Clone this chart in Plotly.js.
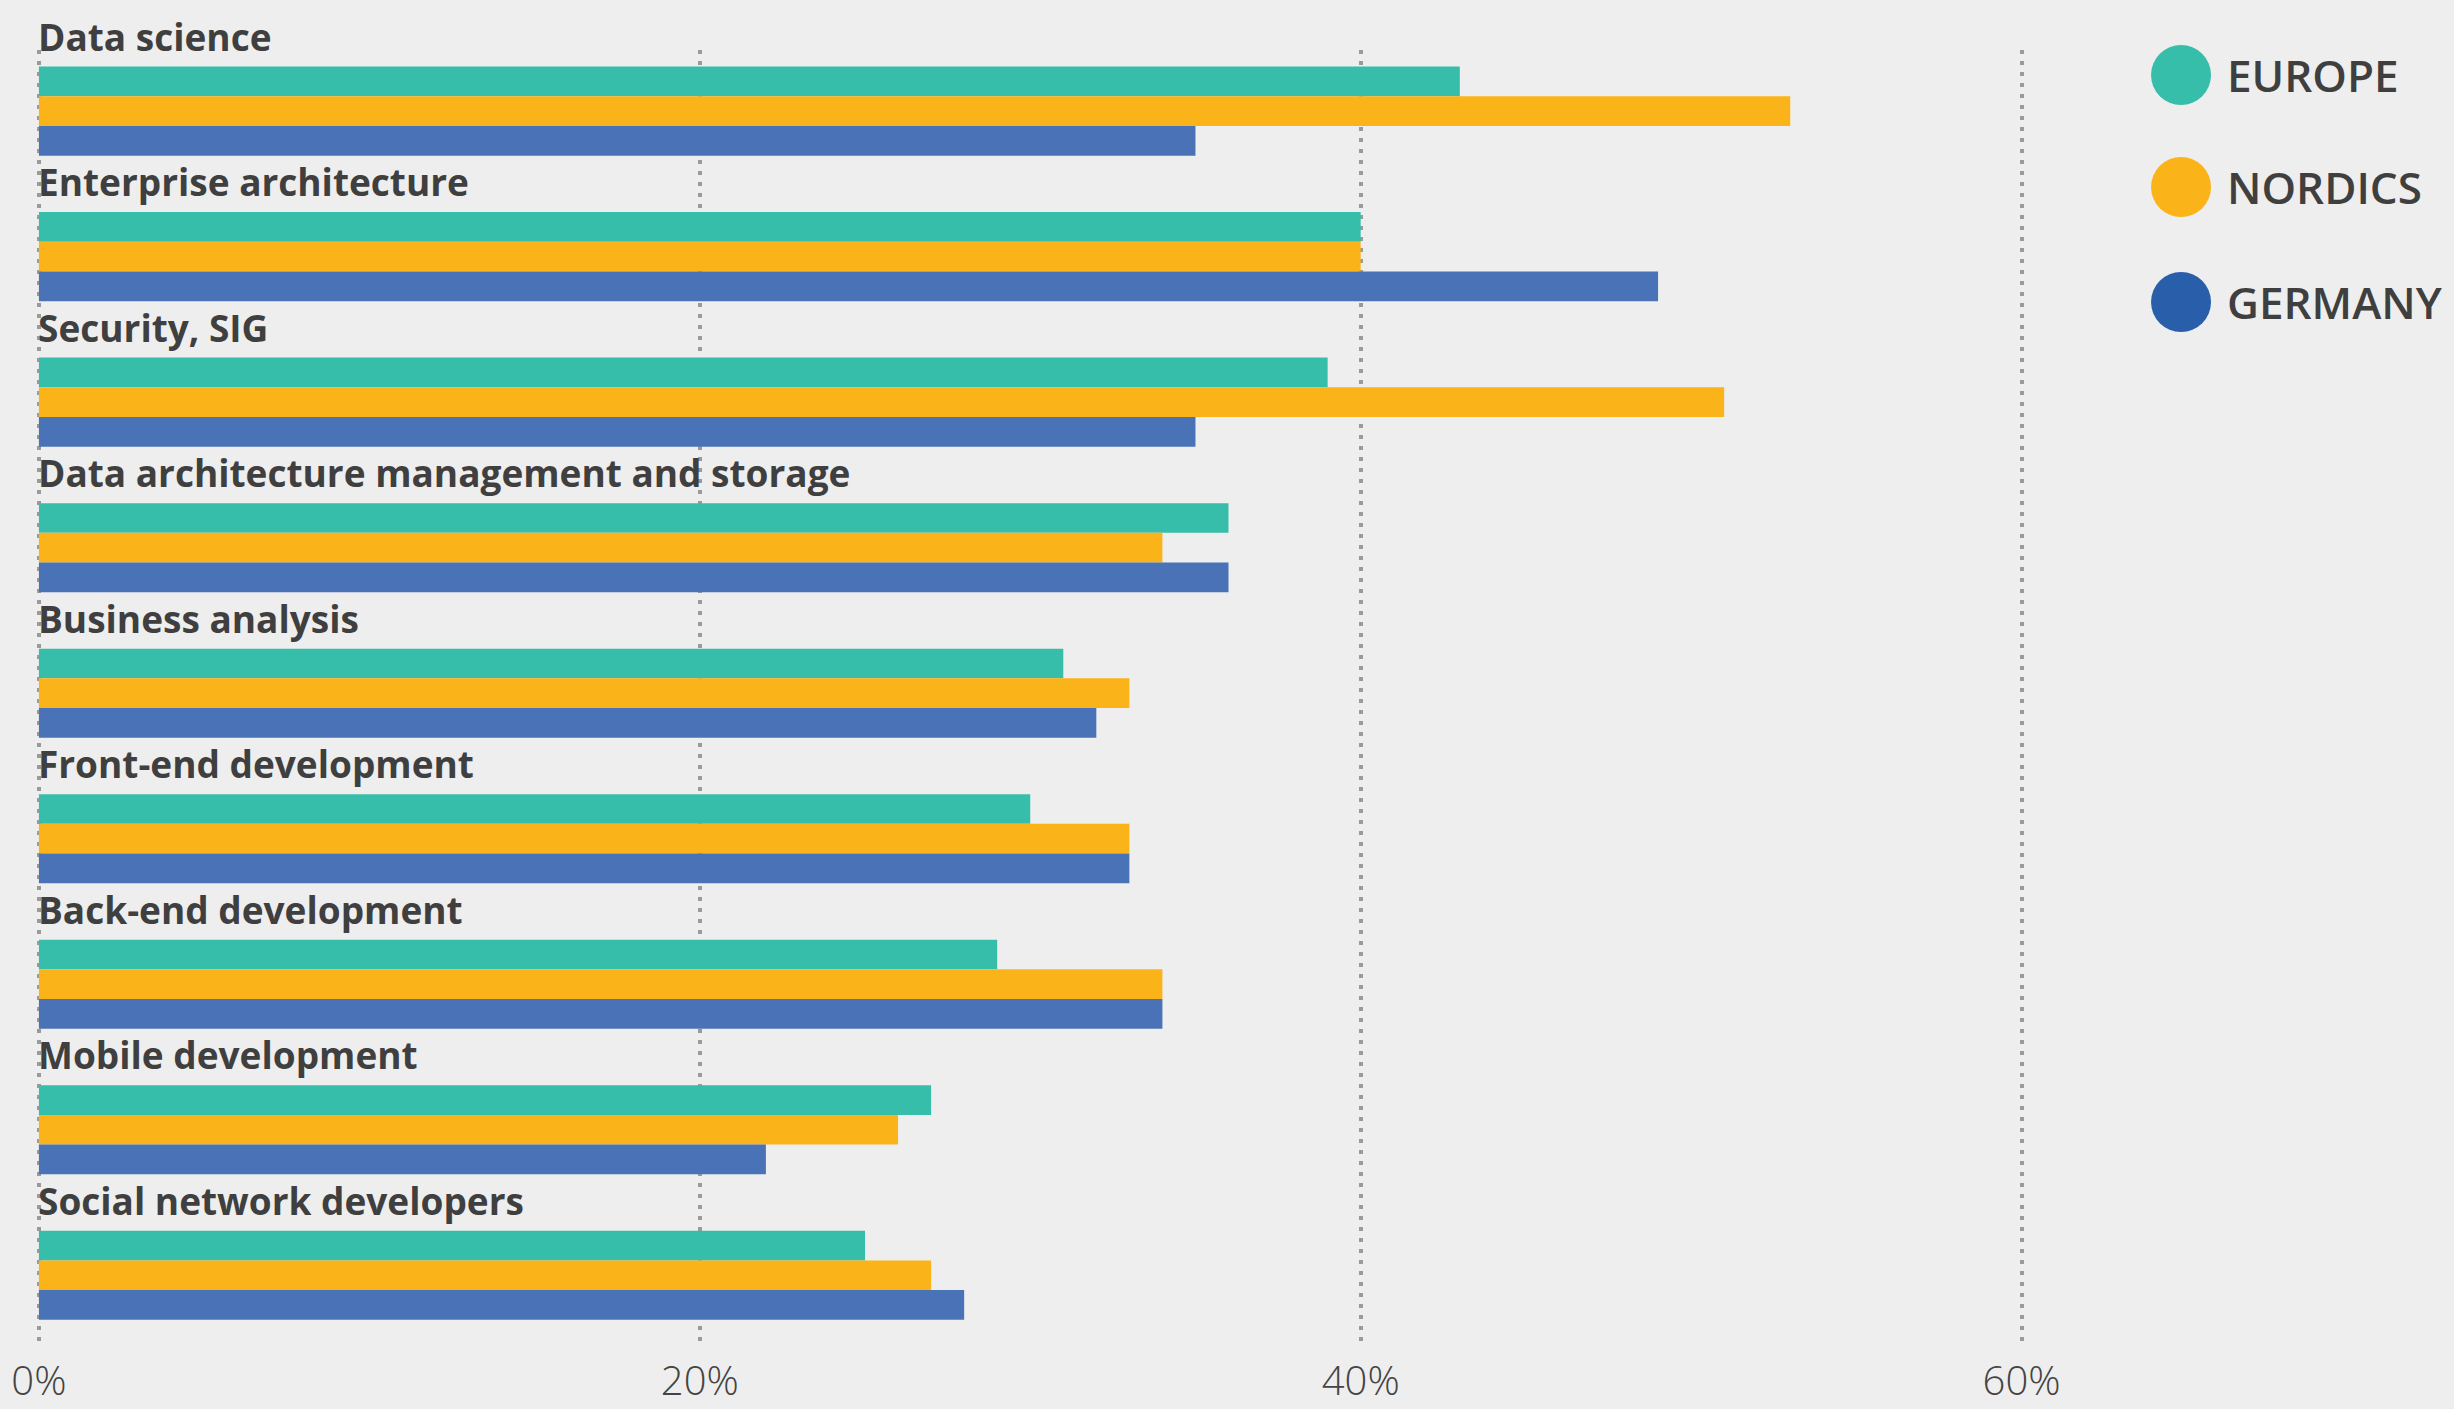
<!DOCTYPE html>
<html>
<head>
<meta charset="utf-8">
<script src="https://cdn.plot.ly/plotly-3.0.1.min.js"></script>
<style>
  html, body { margin: 0; padding: 0; background: #EEEEEE; }
  #chart { width: 2454px; height: 1409px; }
</style>
</head>
<body>
<div id="chart"></div>
<script>
// ---- data ----
var categories = [
  "Data science",
  "Enterprise architecture",
  "Security, SIG",
  "Data architecture management and storage",
  "Business analysis",
  "Front-end development",
  "Back-end development",
  "Mobile development",
  "Social network developers"
];
var europe  = [43, 40, 39, 36, 31, 30, 29, 27, 25];
var nordics = [53, 40, 51, 34, 33, 33, 34, 26, 27];
var germany = [35, 49, 35, 36, 32, 33, 34, 22, 28];
var seriesNames = ["EUROPE", "NORDICS", "GERMANY"];
var tickValues = [0, 20, 40, 60];
var tickLabels = ["0%", "20%", "40%", "60%"];

// ---- styles ----
var barColors = ["#36BEAA", "#FAB419", "#4A72B7"];
var legendColors = ["#36BEAA", "#FAB419", "#295EAB"];
var textColor = "#3F3F3F";
var labelFont = "'Open Sans', 'DejaVu Sans', sans-serif";

var seriesValues = [europe, nordics, germany];
var traces = seriesValues.map(function (vals, i) {
  return {
    type: "bar",
    orientation: "h",
    name: seriesNames[i],
    x: vals,
    y: categories,
    marker: { color: barColors[i], line: { width: 0 } },
    showlegend: false,
    hoverinfo: "x+y+name"
  };
});

var annotations = categories.map(function (c) {
  return {
    x: 0, y: c, xref: "x", yref: "y",
    text: c, showarrow: false,
    xanchor: "left", yanchor: "middle",
    xshift: -3, yshift: 75,
    font: { family: labelFont, size: 37, color: textColor, weight: 700 }
  };
});

var shapes = [];
var legendY = [0.9807, 0.8945, 0.8059];
seriesNames.forEach(function (n, i) {
  shapes.push({
    type: "circle", xref: "paper", yref: "paper",
    xsizemode: "pixel", ysizemode: "pixel",
    xanchor: 0.9264, yanchor: legendY[i],
    x0: -30, x1: 30, y0: -30, y1: 30,
    fillcolor: legendColors[i], line: { width: 0 }
  });
  annotations.push({
    x: 0.9455, y: legendY[i], xref: "paper", yref: "paper",
    text: n, showarrow: false, xanchor: "left", yanchor: "middle",
    font: { family: labelFont, size: 44, color: textColor, weight: 600 }
  });
});

var layout = {
  width: 2454, height: 1409,
  margin: { l: 29, r: 102, t: 50, b: 61, pad: 0 },
  paper_bgcolor: "#EEEEEE",
  plot_bgcolor: "#EEEEEE",
  barmode: "group",
  bargap: 0.388,
  bargroupgap: 0,
  showlegend: false,
  xaxis: {
    range: [-0.3, 70],
    tickvals: tickValues,
    ticktext: tickLabels,
    showgrid: true,
    gridcolor: "#9A9A9A",
    gridwidth: 4,
    griddash: "4px,7px",
    zeroline: false,
    showline: false,
    ticks: "",
    ticklabelstandoff: 6,
    tickfont: { family: labelFont, size: 40, color: "#444444", weight: 300 }
  },
  yaxis: {
    type: "category",
    range: [8.5, -0.42],
    showticklabels: false,
    showgrid: false,
    zeroline: false,
    showline: false,
    ticks: ""
  },
  annotations: annotations,
  shapes: shapes
};

Plotly.newPlot("chart", traces, layout, { displayModeBar: false, staticPlot: true });
</script>
</body>
</html>
